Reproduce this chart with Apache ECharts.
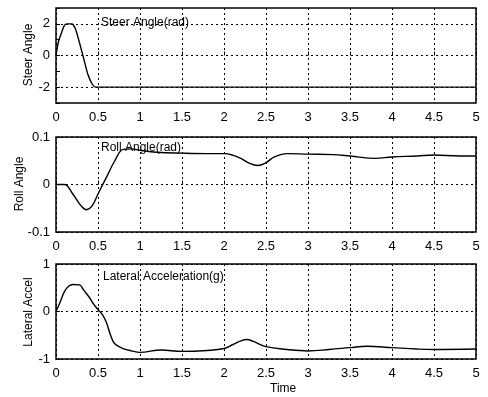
<!DOCTYPE html>
<html>
<head>
<meta charset="utf-8">
<script src="https://cdn.jsdelivr.net/npm/echarts@6/dist/echarts.min.js"></script>
<style>
  html, body { margin: 0; padding: 0; background: #fff; }
  #main { width: 488px; height: 397px; }
</style>
</head>
<body>
<div id="main"></div>
<script>
// time samples and values
var steerT = [0, 0.03, 0.07, 0.1, 0.13, 0.19, 0.23, 0.28, 0.33, 0.38, 0.43, 0.47, 0.5, 1, 2, 3, 4, 5];
var steerV = [0, 0.9, 1.5, 1.9, 2.0, 2.0, 1.7, 0.8, -0.2, -1.2, -1.8, -2.0, -2.0, -2.0, -2.0, -2.0, -2.0, -2.0];

var rollT = [0, 0.1, 0.2, 0.3, 0.36, 0.43, 0.5, 0.6, 0.7, 0.8, 0.9, 1.0, 1.2, 1.5, 1.8, 2.0, 2.1, 2.2, 2.3, 2.4, 2.5, 2.6, 2.75, 3.0, 3.3, 3.5, 3.8, 4.0, 4.3, 4.5, 4.8, 5];
var rollV = [0, 0, -0.02, -0.045, -0.053, -0.045, -0.02, 0.015, 0.05, 0.074, 0.075, 0.072, 0.068, 0.066, 0.065, 0.065, 0.062, 0.055, 0.045, 0.040, 0.046, 0.058, 0.065, 0.064, 0.063, 0.060, 0.055, 0.058, 0.060, 0.062, 0.060, 0.060];

var latT = [0, 0.05, 0.1, 0.15, 0.2, 0.28, 0.33, 0.4, 0.45, 0.5, 0.55, 0.6, 0.65, 0.7, 0.8, 0.9, 1.0, 1.25, 1.5, 1.8, 2.0, 2.1, 2.2, 2.27, 2.35, 2.5, 2.75, 3.0, 3.25, 3.5, 3.7, 4.0, 4.3, 4.5, 5];
var latV = [0, 0.2, 0.42, 0.53, 0.57, 0.56, 0.45, 0.29, 0.15, 0.04, -0.06, -0.23, -0.5, -0.68, -0.78, -0.83, -0.86, -0.81, -0.84, -0.82, -0.78, -0.7, -0.62, -0.59, -0.63, -0.74, -0.8, -0.83, -0.8, -0.76, -0.73, -0.76, -0.79, -0.8, -0.79];

var xTicks = ['0', '0.5', '1', '1.5', '2', '2.5', '3', '3.5', '4', '4.5', '5'];

function pairs(t, v) {
  return t.map(function (x, i) { return [x, v[i]]; });
}

var font = 'Liberation Sans, Arial, sans-serif';
var dotted = { color: '#000', type: [2, 3], width: 1 };

function xAxisFor(idx) {
  return {
    type: 'value', gridIndex: idx, min: 0, max: 5, interval: 0.5,
    axisLine: { show: false },
    axisTick: { show: true, inside: true, length: 4, lineStyle: { color: '#000' } },
    axisLabel: {
      color: '#000', fontSize: 13, fontFamily: font, margin: 8,
      formatter: function (v) { return xTicks[Math.round(v * 2)]; }
    },
    splitLine: { show: true, lineStyle: dotted }
  };
}

function yAxisFor(idx, min, max, interval, labels) {
  return {
    type: 'value', gridIndex: idx, min: min, max: max, interval: interval,
    axisLine: { show: false },
    axisTick: { show: true, inside: true, length: 4, lineStyle: { color: '#000' } },
    axisLabel: {
      color: '#000', fontSize: 13, fontFamily: font, margin: 6,
      formatter: function (v) {
        var s = labels[String(Math.round(v * 1000) / 1000)];
        return s === undefined ? '' : s;
      }
    },
    splitLine: { show: idx !== 0, lineStyle: dotted }
  };
}

// rotated y-axis titles
function yName(text, x, y) {
  return {
    type: 'text', x: x, y: y, rotation: Math.PI / 2,
    style: { text: text, fill: '#000', font: '12px ' + font, align: 'center', verticalAlign: 'middle' }
  };
}

var chart = echarts.init(document.getElementById('main'));

var lineStyle = { color: '#000', width: 1.4 };

var option = {
  animation: false,
  backgroundColor: '#fff',
  title: [
    { text: 'Steer Angle(rad)', left: 96, top: 12, textStyle: { fontSize: 12, fontWeight: 'normal', color: '#000', fontFamily: font } },
    { text: 'Roll Angle(rad)', left: 96, top: 137, textStyle: { fontSize: 12, fontWeight: 'normal', color: '#000', fontFamily: font } },
    { text: 'Lateral Acceleration(g)', left: 98, top: 266, textStyle: { fontSize: 12, fontWeight: 'normal', color: '#000', fontFamily: font } }
  ],
  graphic: [
    { type: 'text', left: 270, top: 383, style: { text: 'Time', fill: '#000', font: '12px ' + font } },
    yName('Steer Angle', 29, 55),
    yName('Roll Angle', 20, 184),
    yName('Lateral Accel', 29, 312)
  ],
  grid: [
    { left: 56, top: 8, width: 420, height: 95, show: true, borderColor: '#000', borderWidth: 1.5, backgroundColor: 'transparent' },
    { left: 56, top: 137, width: 420, height: 95, show: true, borderColor: '#000', borderWidth: 1.5, backgroundColor: 'transparent' },
    { left: 56, top: 264, width: 420, height: 95, show: true, borderColor: '#000', borderWidth: 1.5, backgroundColor: 'transparent' }
  ],
  xAxis: [xAxisFor(0), xAxisFor(1), xAxisFor(2)],
  yAxis: [
    yAxisFor(0, -3, 3, 1, { '-2': '-2', '0': '0', '2': '2' }),
    yAxisFor(1, -0.1, 0.1, 0.1, { '-0.1': '-0.1', '0': '0', '0.1': '0.1' }),
    yAxisFor(2, -1, 1, 1, { '-1': '-1', '0': '0', '1': '1' })
  ],
  series: [
    {
      type: 'line', xAxisIndex: 0, yAxisIndex: 0, data: pairs(steerT, steerV),
      showSymbol: false, smooth: 0.2, lineStyle: lineStyle,
      markLine: {
        silent: true, symbol: 'none', label: { show: false },
        lineStyle: dotted,
        data: [{ yAxis: -2 }, { yAxis: 0 }, { yAxis: 2 }]
      }
    },
    {
      type: 'line', xAxisIndex: 1, yAxisIndex: 1, data: pairs(rollT, rollV),
      showSymbol: false, smooth: 0.4, lineStyle: lineStyle
    },
    {
      type: 'line', xAxisIndex: 2, yAxisIndex: 2, data: pairs(latT, latV),
      showSymbol: false, smooth: 0.4, lineStyle: lineStyle
    }
  ]
};

chart.setOption(option);
</script>
</body>
</html>
